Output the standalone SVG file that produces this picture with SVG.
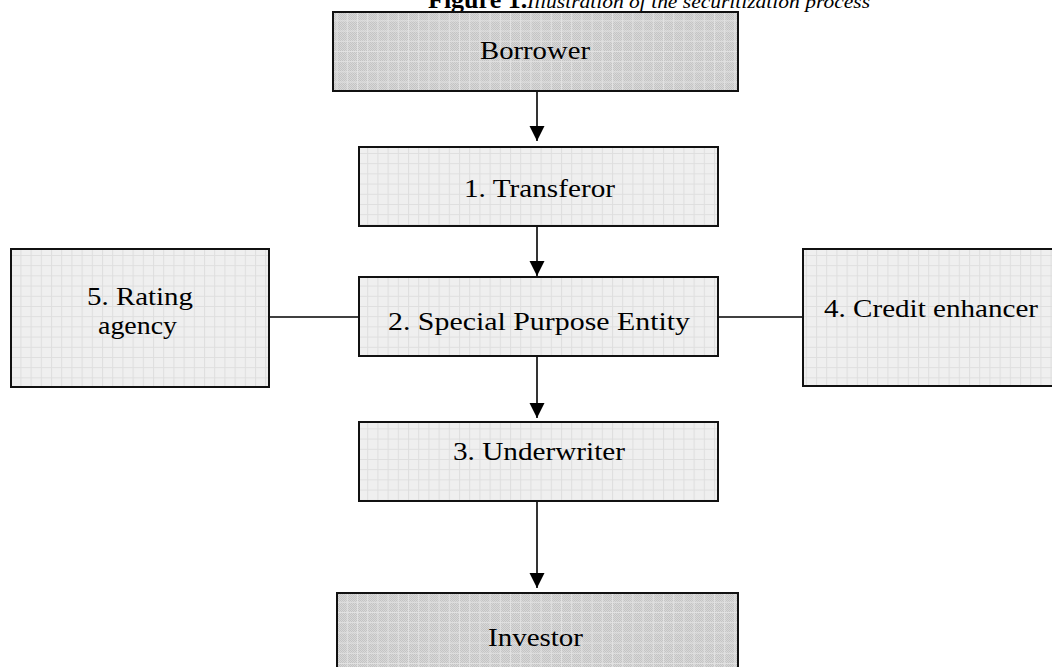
<svg xmlns="http://www.w3.org/2000/svg" width="1052" height="667" viewBox="0 0 1052 667">
<defs>
  <pattern id="checker" width="2" height="2" patternUnits="userSpaceOnUse">
    <rect width="2" height="2" fill="#d8d8d8"/>
    <rect width="1" height="1" fill="#c4c4c4"/>
    <rect x="1" y="1" width="1" height="1" fill="#c4c4c4"/>
  </pattern>
  <pattern id="gridDark" width="10.2" height="10.2" patternUnits="userSpaceOnUse">
    <path d="M0 0.5H10.2M0.5 0V10.2" stroke="#e2e2e2" stroke-width="1" fill="none"/>
  </pattern>
  <pattern id="gridLight" width="10.2" height="10.2" patternUnits="userSpaceOnUse">
    <rect width="10.2" height="10.2" fill="#efefef"/>
    <path d="M0 0.5H10.2M0.5 0V10.2" stroke="#dedede" stroke-width="1" fill="none"/>
  </pattern>
  <marker id="arrow" markerWidth="15" markerHeight="16" refX="15" refY="7.5" orient="auto" markerUnits="userSpaceOnUse">
    <path d="M0 0L15 7.5L0 15Z" fill="#000"/>
  </marker>
</defs>
<style>
  .box { stroke: #111; stroke-width: 2; }
  .light { fill: url(#gridLight); }
  .dark { fill: url(#checker); }
  .gridover { fill: url(#gridDark); stroke: none; }
  .lbl { font-family: "Liberation Serif", "Times New Roman", serif; font-size: 26px; fill: #000; text-anchor: middle; }
  .conn { stroke: #000; stroke-width: 1.6; fill: none; }
</style>

<g id="title">
  <text x="428" y="8" font-family="Liberation Serif, serif" font-size="26" font-weight="bold" fill="#000">Figure 1.</text>
  <text x="527" y="7.5" font-family="Liberation Serif, serif" font-size="19" font-style="italic" fill="#000" textLength="343" lengthAdjust="spacingAndGlyphs">Illustration of the securitization process</text>
</g>

<g id="connectors">
  <line class="conn" x1="537" y1="91" x2="537" y2="141" marker-end="url(#arrow)"/>
  <line class="conn" x1="537" y1="226" x2="537" y2="276" marker-end="url(#arrow)"/>
  <line class="conn" x1="537" y1="356" x2="537" y2="418" marker-end="url(#arrow)"/>
  <line class="conn" x1="537" y1="501" x2="537" y2="588" marker-end="url(#arrow)"/>
  <line class="conn" x1="269" y1="317" x2="359" y2="317"/>
  <line class="conn" x1="718" y1="317" x2="803" y2="317"/>
</g>

<g id="borrower">
  <rect class="box dark" x="333" y="12" width="405" height="79"/>
  <rect class="gridover" x="334" y="13" width="403" height="77"/>
  <rect x="333" y="12" width="405" height="79" fill="none" stroke="#111" stroke-width="2"/>
  <text class="lbl" x="535" y="59" textLength="110" lengthAdjust="spacingAndGlyphs">Borrower</text>
</g>

<g id="transferor">
  <rect class="box light" x="359" y="147" width="359" height="79"/>
  <text class="lbl" x="539.5" y="197" textLength="151" lengthAdjust="spacingAndGlyphs">1. Transferor</text>
</g>

<g id="spe">
  <rect class="box light" x="359" y="277" width="359" height="79"/>
  <text class="lbl" x="539" y="330" textLength="302" lengthAdjust="spacingAndGlyphs">2. Special Purpose Entity</text>
</g>

<g id="underwriter">
  <rect class="box light" x="359" y="422" width="359" height="79"/>
  <text class="lbl" x="539" y="460" textLength="172" lengthAdjust="spacingAndGlyphs">3. Underwriter</text>
</g>

<g id="investor">
  <rect class="box dark" x="337" y="593" width="401" height="90"/>
  <rect class="gridover" x="338" y="594" width="399" height="88"/>
  <rect x="337" y="593" width="401" height="90" fill="none" stroke="#111" stroke-width="2"/>
  <text class="lbl" x="535.5" y="646" textLength="95" lengthAdjust="spacingAndGlyphs">Investor</text>
</g>

<g id="rating">
  <rect class="box light" x="11" y="249" width="258" height="138"/>
  <text class="lbl" x="140" y="305" textLength="106" lengthAdjust="spacingAndGlyphs">5. Rating</text>
  <text class="lbl" x="137.5" y="334" textLength="79" lengthAdjust="spacingAndGlyphs">agency</text>
</g>

<g id="credit">
  <rect class="box light" x="803" y="249" width="260" height="137"/>
  <text class="lbl" x="931" y="317" textLength="214" lengthAdjust="spacingAndGlyphs">4. Credit enhancer</text>
</g>
</svg>
